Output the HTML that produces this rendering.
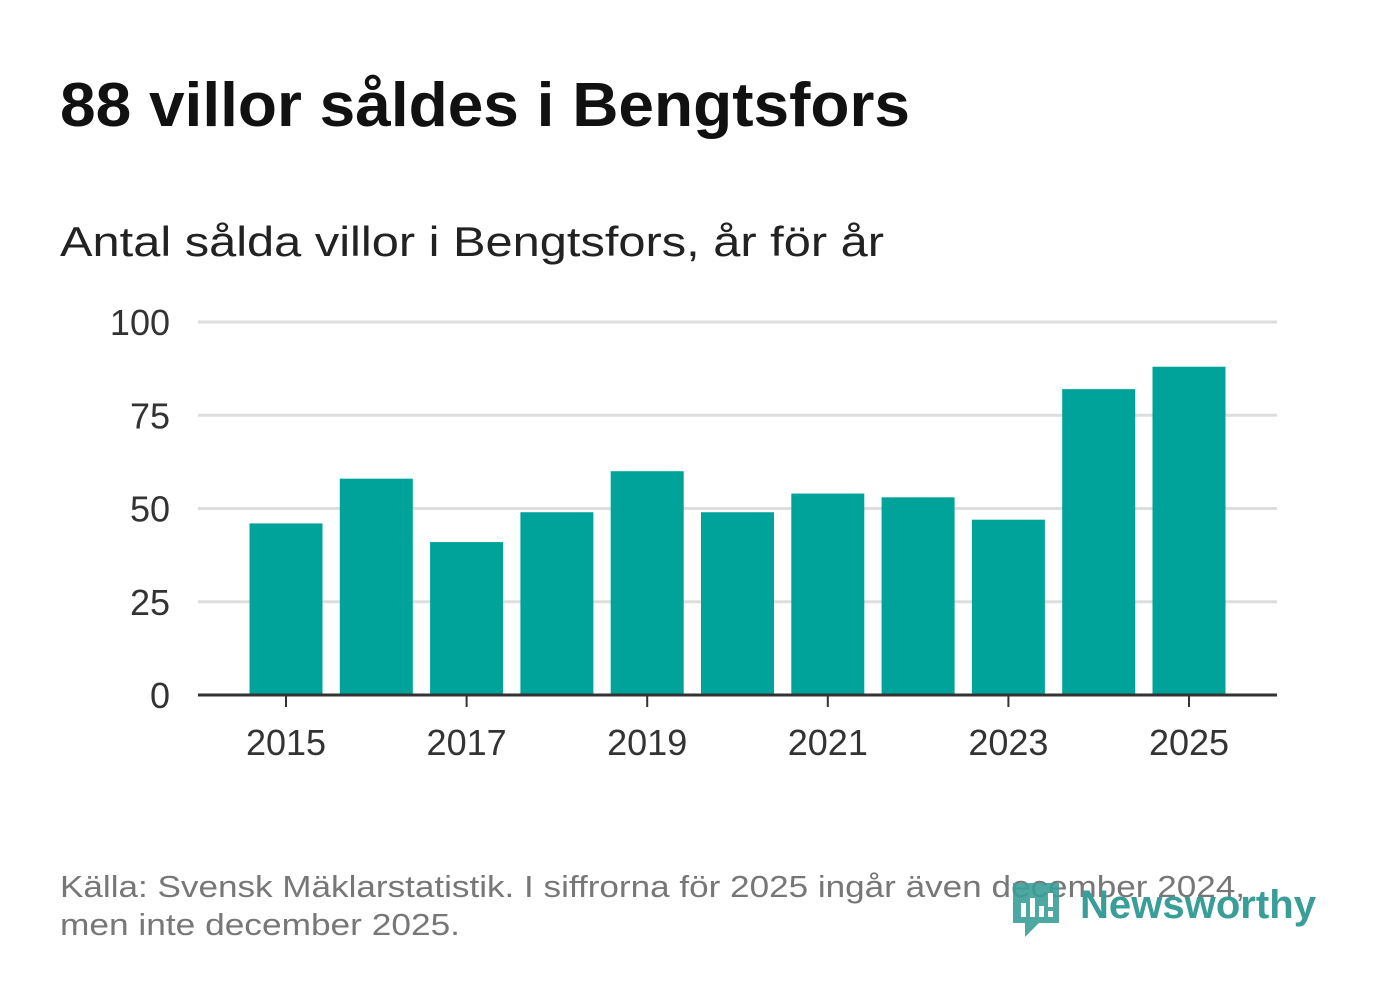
<!DOCTYPE html>
<html><head><meta charset="utf-8"><style>
body{margin:0;background:#fff;width:1382px;height:999px;overflow:hidden;font-family:"Liberation Sans",sans-serif}
</style></head><body>
<svg width="1382" height="999" id="chart" xmlns="http://www.w3.org/2000/svg">
<text x="60" y="126" font-size="62" font-weight="bold" fill="#111" textLength="850" lengthAdjust="spacingAndGlyphs">88 villor såldes i Bengtsfors</text>
<text x="60" y="256" font-size="42" fill="#222" textLength="824" lengthAdjust="spacingAndGlyphs">Antal sålda villor i Bengtsfors, år för år</text>
<g id="grid"></g><g id="bars"></g><g id="axes"></g>
<text x="60" y="897" font-size="31" fill="#777" textLength="1185" lengthAdjust="spacingAndGlyphs">Källa: Svensk Mäklarstatistik. I siffrorna för 2025 ingår även december 2024,</text>
<text x="60" y="935" font-size="31" fill="#777" textLength="400" lengthAdjust="spacingAndGlyphs">men inte december 2025.</text>
<g>
<path d="M1013 883 h46 v40 h-20 l-14 14 v-14 h-12 z" fill="#3a9e98" opacity="0.9"/>
<rect x="1021" y="903" width="5" height="14" fill="#fff"/><rect x="1030" y="898" width="5" height="19" fill="#fff"/><rect x="1039" y="906" width="5" height="11" fill="#fff"/><rect x="1048" y="893" width="5" height="14" fill="#fff"/><rect x="1048" y="911" width="5" height="6" fill="#fff"/>
<text x="1080" y="918" font-size="40" font-weight="bold" fill="#3a9e98" textLength="236" lengthAdjust="spacingAndGlyphs">Newsworthy</text>
</g>
</svg>
<script>
const years=[2015,2016,2017,2018,2019,2020,2021,2022,2023,2024,2025];
const sold=[46,58,41,49,60,49,54,53,47,82,88];
const yTicks=[0,25,50,75,100];
const xTickYears=[2015,2017,2019,2021,2023,2025];
const NS="http://www.w3.org/2000/svg";
const y0=695,pxPer=3.73,xLeft=198,xRight=1277,step=90.3,x0=286,bw=73;
const yS=v=>y0-v*pxPer, xS=yr=>x0+(yr-2015)*step;
function mk(t,a,p){const e=document.createElementNS(NS,t);for(const k in a)e.setAttribute(k,a[k]);p.appendChild(e);return e;}
const grid=document.getElementById('grid'),bars=document.getElementById('bars'),axes=document.getElementById('axes');
yTicks.forEach(v=>{
 if(v>0){const l=mk('line',{x1:xLeft,x2:xRight,y1:yS(v),y2:yS(v),stroke:'#ddd','stroke-width':3},grid);
 
 }
 const t=mk('text',{x:170,y:yS(v)+13,'font-size':36,fill:'#333','text-anchor':'end'},axes);t.textContent=v;
 
 
});
years.forEach((yr,i)=>{
 const r=mk('rect',{x:xS(yr)-bw/2,y:yS(sold[i]),width:bw,height:y0-yS(sold[i]),fill:'#00a39a'},bars);
 
 
});
const ax=mk('line',{x1:xLeft,x2:xRight,y1:y0,y2:y0,stroke:'#333','stroke-width':3},axes);


xTickYears.forEach(yr=>{
 const tk=mk('line',{x1:xS(yr),x2:xS(yr),y1:y0,y2:y0+12,stroke:'#333','stroke-width':2},axes);
 
 
 const t=mk('text',{x:xS(yr),y:755,'font-size':36,fill:'#333','text-anchor':'middle'},axes);t.textContent=yr;
 
 
});
</script>
</body></html>
